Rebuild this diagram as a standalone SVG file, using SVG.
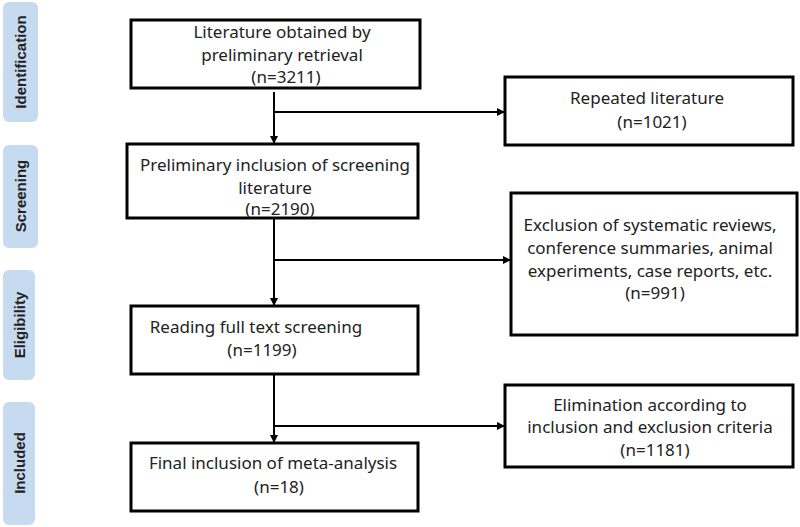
<svg xmlns="http://www.w3.org/2000/svg" width="800" height="527" viewBox="0 0 800 527">
<defs>
<style>
.side{fill:#c6daf0;}
.sidet{font-family:"Liberation Sans",Arial,sans-serif;font-weight:bold;font-size:15px;fill:#222;text-anchor:middle;}
.box{fill:#fff;stroke:#000;stroke-width:3;}
.t{font-family:"Noto Sans","Liberation Sans",sans-serif;font-size:17px;fill:#222;text-anchor:middle;}
.c{stroke:#000;stroke-width:2;fill:none;}
</style>
<marker id="ah" markerWidth="8" markerHeight="8" refX="7" refY="4" orient="auto" markerUnits="userSpaceOnUse">
<path d="M0,0 L8,4 L0,8 Z" fill="#000"/>
</marker>
</defs>
<rect width="800" height="527" fill="#fff"/>
<g id="stage-identification"><rect class="side" x="3" y="2" width="35" height="120" rx="6"/><text class="sidet" transform="translate(26,62) rotate(-90)">Identification</text></g>
<g id="stage-screening"><rect class="side" x="3" y="145" width="35" height="103" rx="6"/><text class="sidet" transform="translate(26,196) rotate(-90)">Screening</text></g>
<g id="stage-eligibility"><rect class="side" x="3" y="270" width="32" height="110" rx="6"/><text class="sidet" transform="translate(25,325) rotate(-90)">Eligibility</text></g>
<g id="stage-included"><rect class="side" x="3" y="402" width="32" height="123" rx="6"/><text class="sidet" transform="translate(25,463) rotate(-90)">Included</text></g>

<g id="connectors">
<line class="c" x1="274" y1="92" x2="274" y2="143" marker-end="url(#ah)"/>
<line class="c" x1="274" y1="112" x2="504" y2="112" marker-end="url(#ah)"/>
<line class="c" x1="274" y1="219" x2="274" y2="305" marker-end="url(#ah)"/>
<line class="c" x1="274" y1="260" x2="510" y2="260" marker-end="url(#ah)"/>
<line class="c" x1="274" y1="375" x2="274" y2="442" marker-end="url(#ah)"/>
<line class="c" x1="274" y1="426" x2="504" y2="426" marker-end="url(#ah)"/>
</g>

<g id="n1"><rect class="box" x="131" y="20" width="289" height="68"/>
<text class="t" x="282" y="38">Literature obtained by</text>
<text class="t" x="282" y="61">preliminary retrieval</text>
<text class="t" x="286" y="83">(n=3211)</text></g>

<g id="n2"><rect class="box" x="505" y="77" width="288" height="68"/>
<text class="t" x="647" y="104">Repeated literature</text>
<text class="t" x="652" y="128">(n=1021)</text></g>

<g id="n3"><rect class="box" x="127" y="144" width="291" height="74"/>
<text class="t" x="275" y="171">Preliminary inclusion of screening</text>
<text class="t" x="275" y="194">literature</text>
<text class="t" x="280" y="215">(n=2190)</text></g>

<g id="n4"><rect class="box" x="511" y="193" width="286" height="142"/>
<text class="t" x="650" y="231">Exclusion of systematic reviews,</text>
<text class="t" x="650" y="254">conference summaries, animal</text>
<text class="t" x="650" y="277">experiments, case reports, etc.</text>
<text class="t" x="655" y="299">(n=991)</text></g>

<g id="n5"><rect class="box" x="131" y="306" width="287" height="68"/>
<text class="t" x="256" y="333">Reading full text screening</text>
<text class="t" x="262" y="356">(n=1199)</text></g>

<g id="n6"><rect class="box" x="505" y="385" width="288" height="82"/>
<text class="t" x="650" y="411">Elimination according to</text>
<text class="t" x="650" y="433">inclusion and exclusion criteria</text>
<text class="t" x="655" y="456">(n=1181)</text></g>

<g id="n7"><rect class="box" x="131" y="443" width="287" height="68"/>
<text class="t" x="273" y="469">Final inclusion of meta-analysis</text>
<text class="t" x="279" y="493">(n=18)</text></g>
</svg>
